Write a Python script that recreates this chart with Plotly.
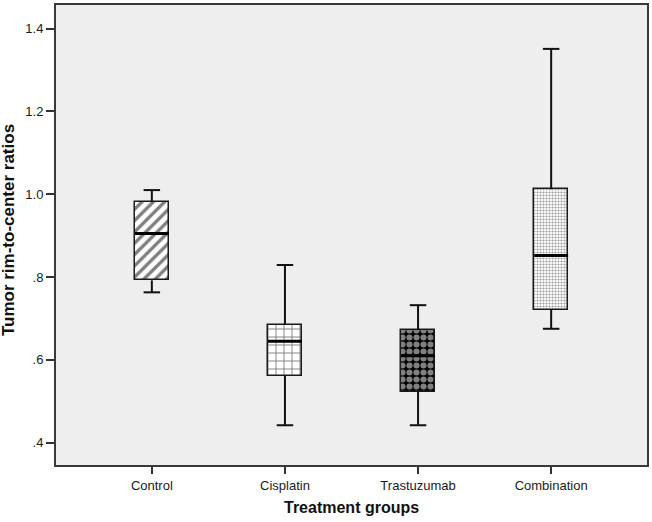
import plotly.graph_objects as go

categories = ["Control", "Cisplatin", "Trastuzumab", "Combination"]
whisker_low = [0.763, 0.442, 0.442, 0.675]
q1 = [0.792, 0.561, 0.523, 0.721]
median = [0.905, 0.645, 0.610, 0.852]
q3 = [0.981, 0.685, 0.672, 1.012]
whisker_high = [1.010, 0.829, 0.732, 1.351]
y_tickvals = [0.4, 0.6, 0.8, 1.0, 1.2, 1.4]
y_ticktext = [".4", ".6", ".8", "1.0", "1.2", "1.4"]

patterns = [
    dict(shape="/", fgcolor="black", bgcolor="white", size=8, solidity=0.42),
    dict(shape="+", fgcolor="black", bgcolor="white", size=8, solidity=0.22),
    dict(shape=".", fgcolor="white", bgcolor="black", size=7, solidity=0.6),
    dict(shape=".", fgcolor="#333333", bgcolor="white", size=3, solidity=0.4),
]

xs = list(range(len(categories)))
box_w = 0.255
cap_hw = 0.062

fig = go.Figure()

for i, x in enumerate(xs):
    fig.add_trace(go.Bar(
        x=[x], y=[q3[i] - q1[i]], base=[q1[i]], width=box_w,
        marker=dict(color="white", pattern=patterns[i],
                    line=dict(color="#1a1a1a", width=1.5)),
        showlegend=False, hoverinfo="skip",
    ))

wx, wy = [], []
for i, x in enumerate(xs):
    wx += [x, x, None, x, x, None]
    wy += [q3[i], whisker_high[i], None, q1[i], whisker_low[i], None]
    wx += [x - cap_hw, x + cap_hw, None, x - cap_hw, x + cap_hw, None]
    wy += [whisker_high[i], whisker_high[i], None, whisker_low[i], whisker_low[i], None]
fig.add_trace(go.Scatter(x=wx, y=wy, mode="lines",
                         line=dict(color="#111111", width=2),
                         showlegend=False, hoverinfo="skip"))

mx, my = [], []
for i, x in enumerate(xs):
    mx += [x - box_w / 2, x + box_w / 2, None]
    my += [median[i], median[i], None]
fig.add_trace(go.Scatter(x=mx, y=my, mode="lines",
                         line=dict(color="black", width=3),
                         showlegend=False, hoverinfo="skip"))

fig.update_layout(
    width=652, height=522,
    margin=dict(l=56, r=4, t=3, b=57),
    paper_bgcolor="white",
    plot_bgcolor="#eeeeee",
    font=dict(family="Liberation Sans, Arial, sans-serif", size=13, color="#1a1a1a"),
    bargap=0,
    xaxis=dict(
        range=[-0.72, 3.72], tickvals=xs, ticktext=categories,
        showgrid=False, zeroline=False, showline=True, mirror=True,
        linecolor="#3a3a3a", linewidth=2, ticks="outside", ticklen=7,
        tickcolor="#333333", tickwidth=1.5,
    ),
    yaxis=dict(
        range=[0.346, 1.457], tickvals=y_tickvals, ticktext=y_ticktext,
        showgrid=False, zeroline=False, showline=True, mirror=True,
        linecolor="#3a3a3a", linewidth=2, ticks="outside", ticklen=8,
        tickcolor="#333333", tickwidth=1.5,
    ),
    annotations=[
        dict(text="<b>Treatment groups</b>", xref="paper", yref="paper",
             x=0.5, y=-0.092, xanchor="center", yanchor="middle",
             showarrow=False, font=dict(size=16, color="#111111")),
        dict(text="<b>Tumor rim-to-center ratios</b>", xref="paper", yref="paper",
             x=-0.08, y=0.51, xanchor="center", yanchor="middle", textangle=-90,
             showarrow=False, font=dict(size=17, color="#111111")),
    ],
)

fig.write_html("out.html", config={"displayModeBar": False},
               post_script="document.body.style.margin='0px';")
